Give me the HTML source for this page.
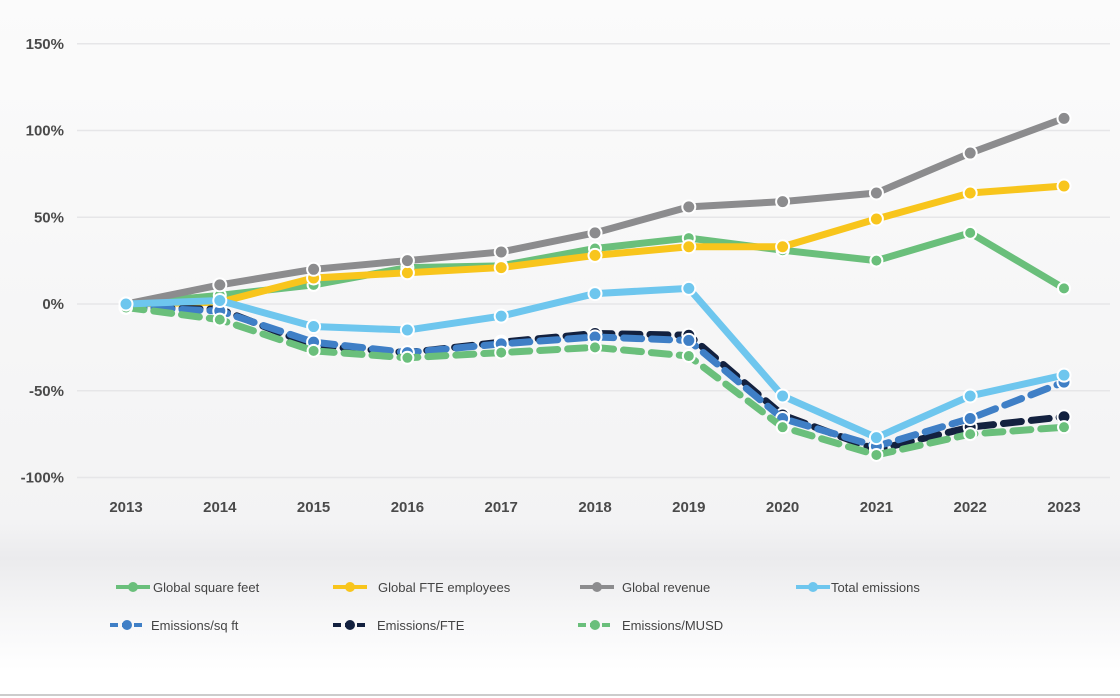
<!DOCTYPE html>
<html><head><meta charset="utf-8"><style>
html,body{margin:0;padding:0;}
body{width:1120px;height:698px;overflow:hidden;background:#fff;font-family:"Liberation Sans",sans-serif;}
#wrap{position:relative;width:1120px;height:698px;background:linear-gradient(180deg,#fbfbfb 0%,#f3f3f4 75%,#ebebed 80%,#f6f6f7 88%,#ffffff 96%);}
svg{position:absolute;left:0;top:0;}
</style></head><body>
<div id="wrap">
<svg id="chart" width="1120" height="698"></svg>
</div>
<script>
const years=["2013","2014","2015","2016","2017","2018","2019","2020","2021","2022","2023"];
const yTicks=[150,100,50,0,-50,-100];
const sqft=[0,5,11,21,22,32,38,31,25,41,9];
const fte=[0,1,15,18,21,28,33,33,49,64,68];
const revenue=[0,11,20,25,30,41,56,59,64,87,107];
const totalEm=[0,2,-13,-15,-7,6,9,-53,-77,-53,-41];
const emSqft=[-2,-4,-22,-28,-23,-19,-21,-66,-82,-66,-45];
const emFte=[-2,-3,-24,-28,-22,-17,-18,-64,-84,-71,-65];
const emMusd=[-2,-9,-27,-31,-28,-25,-30,-71,-87,-75,-71];

const svg=document.getElementById('chart');
const NS='http://www.w3.org/2000/svg';
function X(i){return 126+i*93.8;}
function Y(v){return 304-v*1.735;}
function mk(tag,attrs){const e=document.createElementNS(NS,tag);for(const k in attrs)e.setAttribute(k,attrs[k]);svg.appendChild(e);return e;}

yTicks.forEach(t=>{
  const g=mk('line',{x1:77,x2:1110,y1:Y(t),y2:Y(t),stroke:'#e6e6e8','stroke-width':1.5});
  
  
  const tx=mk('text',{x:64,y:Y(t)+5,'text-anchor':'end','font-size':15,'font-weight':'bold',fill:'#4a4a4a'});
  tx.textContent=t+'%';
  
  
});
years.forEach((yr,i)=>{
  const tx=mk('text',{x:X(i),y:512,'text-anchor':'middle','font-size':15,'font-weight':'bold',fill:'#4a4a4a'});
  tx.textContent=yr;
  
  
});

const series=[
 {name:'Global square feet',d:sqft,c:'#6abf7b',dash:null,r:6},
 {name:'Global FTE employees',d:fte,c:'#f8c51c',dash:null,r:6.5},
 {name:'Global revenue',d:revenue,c:'#8c8c8e',dash:null,r:6.5},
 {name:'Total emissions',d:totalEm,c:'#6ec6ee',dash:null,r:6.5},
 {name:'Emissions/sq ft',d:emSqft,c:'#3f7fc6',dash:'18,10',r:6.5},
 {name:'Emissions/FTE',d:emFte,c:'#13213f',dash:'18,10',r:6.5},
 {name:'Emissions/MUSD',d:emMusd,c:'#6abf7b',dash:'18,10',r:6}
];
const order=[0,1,2,5,4,6,3];
order.forEach(si=>{
  const s=series[si];
  const pts=s.d.map((v,i)=>X(i)+','+Y(v)).join(' ');
  const a={points:pts,fill:'none',stroke:s.c,'stroke-width':7,'stroke-linejoin':'round','stroke-linecap':'round'};
  if(s.dash)a['stroke-dasharray']=s.dash;
  const pl=mk('polyline',a);
  
  
  s.d.forEach((v,i)=>{
    const c=mk('circle',{cx:X(i),cy:Y(v),r:s.r,fill:s.c,stroke:'#fff','stroke-width':2});
    
    
  });
});

const legPos=[[116,587,153],[333,587,378],[580,587,622],[796,587,831],[110,625,151],[333,625,377],[578,625,622]];
series.forEach((s,i)=>{
  const [lx,ly,tx0]=legPos[i];
  const a={x1:lx,x2:lx+34,y1:ly,y2:ly,stroke:s.c,'stroke-width':4};
  if(s.dash)a['stroke-dasharray']='8,4';
  const l=mk('line',a);
  
  
  const c=mk('circle',{cx:lx+17,cy:ly,r:5,fill:s.c});
  
  
  const t=mk('text',{x:tx0,y:ly+5,'font-size':13,fill:'#444'});
  t.textContent=s.name;
  
  
});
const bl=mk('line',{x1:0,x2:1120,y1:695,y2:695,stroke:'#bbb','stroke-width':1.5});


</script>
</body></html>
